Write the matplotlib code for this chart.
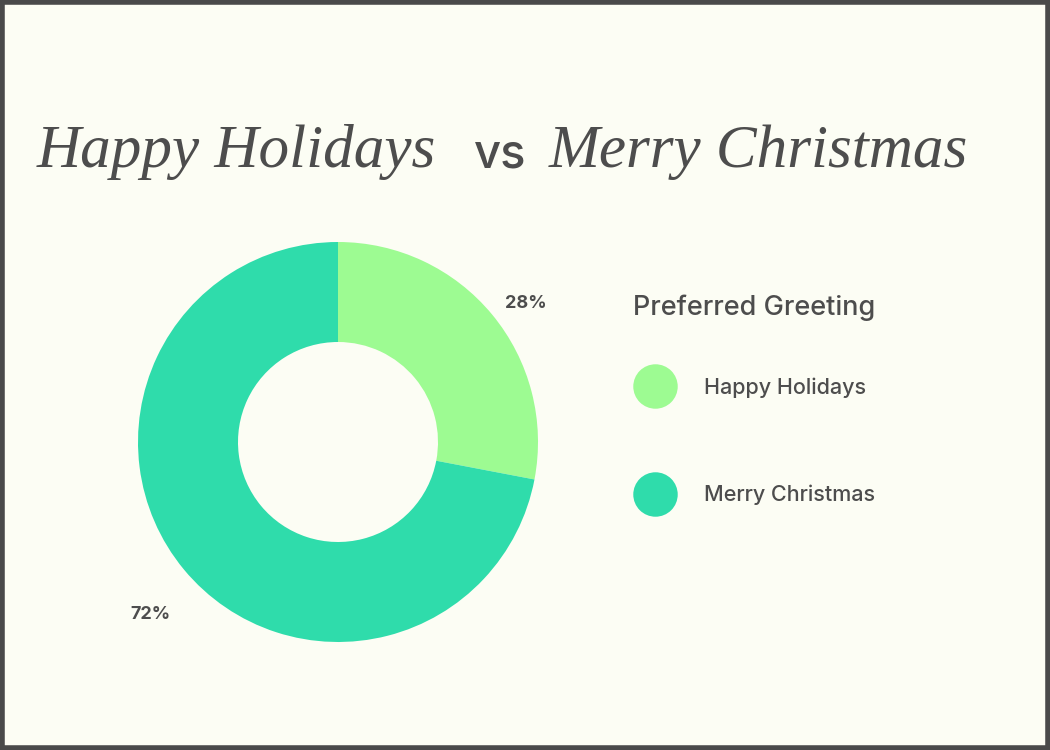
import matplotlib.pyplot as plt
from matplotlib.lines import Line2D

# data
greetings = ["Happy Holidays", "Merry Christmas"]
shares = [28, 72]
colors = ["#9dfb92", "#2fdcab"]

bg = "#fcfdf4"
ink = "#4d4d4d"

fig = plt.figure(figsize=(10.5, 7.5), dpi=100, facecolor=bg)

# frame round the card
fig.patches.append(plt.Rectangle((0.002, 0.003), 0.996, 0.994, transform=fig.transFigure,
                                 fill=False, edgecolor="#4a4a4a", linewidth=4))

# title (no script font available, italic serif stands in)
fig.text(236 / 1050, 1 - 152 / 750, "Happy Holidays", family="Liberation Serif", style="italic",
         fontsize=44, color=ink, ha="center", va="center")
fig.text(500 / 1050, 1 - 156 / 750, "vs", family="Inter", fontsize=34, fontweight="medium",
         color=ink, ha="center", va="center")
fig.text(758 / 1050, 1 - 152 / 750, "Merry Christmas", family="Liberation Serif", style="italic",
         fontsize=44, color=ink, ha="center", va="center")

# donut
cx, cy, r = 338, 442, 200
ax = fig.add_axes([(cx - r) / 1050, (750 - cy - r) / 750, 2 * r / 1050, 2 * r / 750])
ax.set_facecolor(bg)
wedges, _, autotexts = ax.pie(shares, colors=colors, startangle=90, counterclock=False,
                              radius=1.0, wedgeprops=dict(width=0.5, linewidth=0),
                              autopct="%d%%", pctdistance=1.22)
for t in autotexts:
    x, y = t.get_position()
    t.set_position((x, y - 0.085))
    t.set_color(ink)
    t.set_fontsize(13)
    t.set_fontweight("bold")
    t.set_family("Inter")
ax.set_xlim(-1, 1)
ax.set_ylim(-1, 1)
ax.set_aspect("equal")
ax.axis("off")

# legend
fig.text(633 / 1050, 1 - 308 / 750, "Preferred Greeting", family="Inter", fontsize=19.5,
         fontweight="medium", color=ink, ha="left", va="center")
handles = [Line2D([], [], marker="o", linestyle="none", markersize=32,
                  markerfacecolor=c, markeredgewidth=0) for c in colors]
leg = fig.legend(handles, greetings, loc="upper left",
                 bbox_to_anchor=(640 / 1050, 1 - 377 / 750),
                 frameon=False, borderpad=0, borderaxespad=0,
                 handlelength=1.4, handletextpad=1.55, labelspacing=4.05,
                 prop=dict(family="Inter", size=15.5, weight="medium"))
for t in leg.get_texts():
    t.set_color(ink)

fig.savefig("out.png", dpi=100, facecolor=bg)
